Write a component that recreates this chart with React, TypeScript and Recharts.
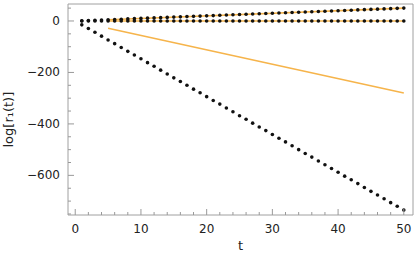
import { ComposedChart, Line, XAxis, YAxis } from "recharts";

const tValues = [
  1, 2, 3, 4, 5, 6, 7, 8, 9, 10, 11, 12, 13, 14, 15, 16, 17, 18, 19, 20, 21, 22, 23, 24, 25,
  26, 27, 28, 29, 30, 31, 32, 33, 34, 35, 36, 37, 38, 39, 40, 41, 42, 43, 44, 45, 46, 47, 48, 49, 50,
];
const risingDots = [
  1, 2, 3, 4, 5, 6, 7, 8, 9, 10, 11, 12, 13, 14, 15, 16, 17, 18, 19, 20, 21, 22, 23, 24, 25,
  26, 27, 28, 29, 30, 31, 32, 33, 34, 35, 36, 37, 38, 39, 40, 41, 42, 43, 44, 45, 46, 47, 48, 49, 50,
];
const flatDots = [
  0, 0, 0, 0, 0, 0, 0, 0, 0, 0, 0, 0, 0, 0, 0, 0, 0, 0, 0, 0, 0, 0, 0, 0, 0,
  0, 0, 0, 0, 0, 0, 0, 0, 0, 0, 0, 0, 0, 0, 0, 0, 0, 0, 0, 0, 0, 0, 0, 0, 0,
];
const fallingDots = [
  -15, -29, -44, -59, -74, -88, -103, -118, -132, -147, -162, -176, -191, -206, -221, -235, -250,
  -265, -279, -294, -309, -323, -338, -353, -368, -382, -397, -412, -426, -441, -456, -470, -485,
  -500, -515, -529, -544, -559, -573, -588, -603, -617, -632, -647, -662, -676, -691, -706, -720, -735,
];
// orange fit lines (start, end)
const fitT = [5, 50];
const fitRising = [5, 50];
const fitFlat = [0, 0];
const fitFalling = [-28, -280];

const xTicks = [
  0, 2, 4, 6, 8, 10, 12, 14, 16, 18, 20, 22, 24, 26, 28, 30, 32, 34, 36, 38, 40, 42, 44, 46, 48, 50,
];
const xLabels = [0, 10, 20, 30, 40, 50];
const yTicks = [-750, -700, -650, -600, -550, -500, -450, -400, -350, -300, -250, -200, -150, -100, -50, 0, 50];
const yLabels = [-600, -400, -200, 0];

const dots = tValues.map((t, i) => ({
  t,
  rising: risingDots[i],
  flat: flatDots[i],
  falling: fallingDots[i],
}));
const fitRows = (vals: number[]) => fitT.map((t, i) => ({ t, v: vals[i] }));

const FONT = "'DejaVu Sans', sans-serif";
const TICK = "#999";
const FRAME = "#a0a0a0";
const ORANGE = "#f6b44b";

const fmt = (v: number) => (v < 0 ? "\u2212" + Math.abs(v) : String(v));

function BottomTick(props: any) {
  const { x, y, payload } = props;
  const major = xLabels.includes(payload.value);
  return (
    <g>
      <line x1={x} x2={x} y1={y} y2={y - (major ? 6 : 3)} stroke={TICK} />
      {major && (
        <text x={x} y={y + 18} textAnchor="middle" fontSize={12} fontFamily={FONT} fill="#222">
          {fmt(payload.value)}
        </text>
      )}
    </g>
  );
}

function TopTick(props: any) {
  const { x, y, payload } = props;
  const major = xLabels.includes(payload.value);
  return <line x1={x} x2={x} y1={y} y2={y + (major ? 6 : 3)} stroke={TICK} />;
}

function LeftTick(props: any) {
  const { x, y, payload } = props;
  const major = yLabels.includes(payload.value);
  return (
    <g>
      <line x1={x} x2={x + (major ? 6 : 3)} y1={y} y2={y} stroke={TICK} />
      {major && (
        <text x={x - 8} y={y + 4} textAnchor="end" fontSize={12} fontFamily={FONT} fill="#222">
          {fmt(payload.value)}
        </text>
      )}
    </g>
  );
}

function RightTick(props: any) {
  const { x, y, payload } = props;
  const major = yLabels.includes(payload.value);
  return <line x1={x} x2={x - (major ? 6 : 3)} y1={y} y2={y} stroke={TICK} />;
}

export default function App() {
  return (
    <div style={{ position: "absolute", left: 0, top: 0, width: 415, height: 258, background: "#fff" }}>
      <ComposedChart width={415} height={258} margin={{ top: 3, right: 1, bottom: 0, left: 0 }}>
        <XAxis
          xAxisId="b"
          dataKey="t"
          type="number"
          domain={[-1.1, 51.4]}
          ticks={xTicks}
          interval={0}
          height={43}
          tickSize={0}
          tickMargin={0}
          tick={<BottomTick />}
          stroke={FRAME}
          label={{ value: "t", position: "insideBottom", offset: 8, fontSize: 13, fontFamily: FONT, fill: "#222" }}
        />
        <XAxis
          xAxisId="top"
          orientation="top"
          dataKey="t"
          type="number"
          domain={[-1.1, 51.4]}
          ticks={xTicks}
          interval={0}
          height={1}
          tickSize={0}
          tick={<TopTick />}
          stroke={FRAME}
        />
        <YAxis
          yAxisId="l"
          type="number"
          domain={[-754, 66]}
          ticks={yTicks}
          interval={0}
          width={68}
          tickSize={0}
          tickMargin={0}
          tick={<LeftTick />}
          stroke={FRAME}
          label={{
            value: "log[r\u2081(t)]",
            angle: -90,
            position: "insideLeft",
            offset: 8,
            dy: 38,
            fontSize: 13,
            fontFamily: FONT,
            fill: "#222",
          }}
        />
        <YAxis
          yAxisId="r"
          orientation="right"
          type="number"
          domain={[-754, 66]}
          ticks={yTicks}
          interval={0}
          width={1}
          tickSize={0}
          tick={<RightTick />}
          stroke={FRAME}
        />
        <Line
          xAxisId="b"
          yAxisId="l"
          data={fitRows(fitRising)}
          dataKey="v"
          stroke={ORANGE}
          strokeWidth={1.6}
          dot={false}
          isAnimationActive={false}
        />
        <Line
          xAxisId="b"
          yAxisId="l"
          data={fitRows(fitFlat)}
          dataKey="v"
          stroke={ORANGE}
          strokeWidth={1.6}
          dot={false}
          isAnimationActive={false}
        />
        <Line
          xAxisId="b"
          yAxisId="l"
          data={fitRows(fitFalling)}
          dataKey="v"
          stroke={ORANGE}
          strokeWidth={1.6}
          dot={false}
          isAnimationActive={false}
        />
        {(["rising", "flat", "falling"] as const).map((k) => (
          <Line
            key={k}
            xAxisId="b"
            yAxisId="l"
            data={dots}
            dataKey={k}
            stroke="none"
            dot={{ r: 1.8, fill: "#111", stroke: "none" }}
            isAnimationActive={false}
          />
        ))}
      </ComposedChart>
    </div>
  );
}
